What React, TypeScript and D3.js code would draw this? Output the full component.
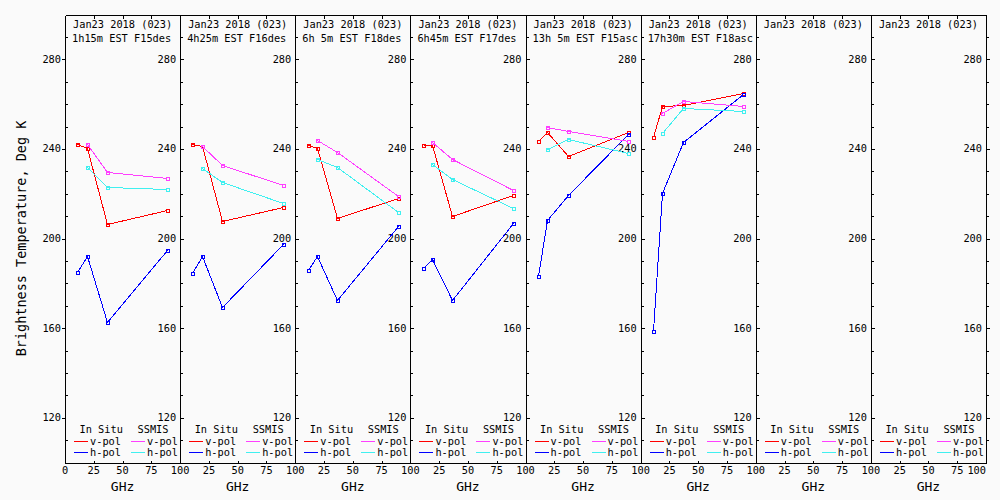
import { useEffect, useRef } from "react";
import * as d3 from "d3";

// panel headers
const dateLabel = "Jan23 2018 (023)";
const timeLabels = [
  "1h15m EST F15des",
  "4h25m EST F16des",
  "6h 5m EST F18des",
  "6h45m EST F17des",
  "13h 5m EST F15asc",
  "17h30m EST F18asc",
  "",
  ""
];

// channel frequencies (GHz)
const inSituFreq = [10.65, 18.7, 36.5, 89];
const ssmisFreq = [18.7, 36.5, 89];

// brightness temperatures (K), one row per panel
const inSituV = [
  [242.1, 240.2, 206.4, 212.6],
  [242.1, 241.1, 208.0, 214.0],
  [241.7, 240.6, 209.1, 218.0],
  [241.7, 241.7, 210.0, 219.2],
  [243.5, 247.5, 236.8, 247.5],
  [245.2, 259.2, 259.8, 264.9],
  [],
  []
];
const inSituH = [
  [185.0, 192.1, 162.6, 194.8],
  [184.5, 192.1, 169.3, 197.5],
  [185.8, 192.1, 172.5, 205.5],
  [186.7, 190.8, 172.5, 206.8],
  [183.2, 208.2, 219.2, 246.6],
  [158.6, 220.2, 243.0, 264.4],
  [],
  []
];
const ssmisV = [
  [242.1, 229.6, 226.8],
  [241.1, 232.9, 223.8],
  [243.8, 238.5, 218.9],
  [243.3, 235.4, 221.6],
  [249.7, 247.9, 243.5],
  [255.9, 261.3, 259.1],
  [],
  []
];
const ssmisH = [
  [231.8, 222.9, 222.0],
  [231.4, 225.1, 215.8],
  [235.4, 231.8, 211.7],
  [233.2, 226.5, 213.5],
  [239.9, 244.3, 238.1],
  [247.0, 258.2, 257.1],
  [],
  []
];

const yTicks = [120, 160, 200, 240, 280];
const xTicks = [25, 50, 75];

const FONT = "'DejaVu Sans Mono', monospace";
const RED = "#ff0000";
const BLUE = "#0000ff";
const MAGENTA = "#ff40ff";
const CYAN = "#40f0f0";

export default function App() {
  const ref = useRef<SVGSVGElement | null>(null);

  useEffect(() => {
    if (!ref.current) return;
    const svg = d3.select(ref.current);
    svg.selectAll("*").remove();

    const width = 1000;
    const height = 500;
    const left = 65;
    const right = 986;
    const top = 14.5;
    const bottom = 462.5;

    svg.attr("viewBox", `0 0 ${width} ${height}`);
    svg.append("rect").attr("width", width).attr("height", height).attr("fill", "#fafafa");

    const panel = d3.scaleBand<number>().domain(d3.range(8)).range([left, right]).padding(0);
    const bw = panel.bandwidth();
    const y = d3.scaleLinear().domain([100, 300]).range([bottom, top]);
    const px = (v: number) => Math.round(v) + 0.5;

    const g = svg.append("g").attr("shape-rendering", "crispEdges");
    const labels = svg.append("g").attr("font-family", FONT).attr("font-size", 10.3).attr("fill", "#000");

    // y label
    svg
      .append("text")
      .attr("transform", `translate(26,${(top + bottom) / 2}) rotate(-90)`)
      .attr("text-anchor", "middle")
      .attr("font-family", FONT)
      .attr("font-size", 13.5)
      .text("Brightness Temperature, Deg K");

    // vertical boundaries with y ticks, and the 0 / 100 GHz labels under them
    const bounds = d3.range(9).map((i) => (i < 8 ? panel(i)! : right));
    const minor = d3.range(110, 300, 10);
    bounds.forEach((bx, i) => {
      const xb = px(bx);
      g.append("line").attr("x1", xb).attr("x2", xb).attr("y1", px(top)).attr("y2", px(bottom)).attr("stroke", "#000");
      g.selectAll(null)
        .data(minor)
        .join("line")
        .attr("x1", (v: number) => (yTicks.includes(v) ? (i === 0 ? xb - 4 : xb - 1) : xb - 1))
        .attr("x2", (v: number) => (yTicks.includes(v) ? (i === 0 ? xb : xb + 3) : xb + 2))
        .attr("y1", (v: number) => px(y(v)))
        .attr("y2", (v: number) => px(y(v)))
        .attr("stroke", "#000");
      yTicks.forEach((v) => {
        labels
          .append("text")
          .attr("x", bx - 4)
          .attr("y", y(v) + 3.5)
          .attr("text-anchor", "end")
          .text(String(v));
      });
      labels
        .append("text")
        .attr("x", bx)
        .attr("y", 474)
        .attr("text-anchor", i === 8 ? "end" : "middle")
        .text(i === 0 ? "0" : "100");
    });

    // top / bottom edges
    g.append("line").attr("x1", px(left)).attr("x2", px(right)).attr("y1", px(top)).attr("y2", px(top)).attr("stroke", "#000");
    g.append("line").attr("x1", px(left)).attr("x2", px(right)).attr("y1", px(bottom)).attr("y2", px(bottom)).attr("stroke", "#000");

    d3.range(8).forEach((p) => {
      const x0 = panel(p)!;
      const x = d3.scaleLinear().domain([0, 100]).range([x0, x0 + bw]);

      // x ticks
      xTicks.forEach((t) => {
        g.append("line").attr("x1", px(x(t))).attr("x2", px(x(t))).attr("y1", px(top)).attr("y2", px(top) + 3).attr("stroke", "#000");
        g.append("line").attr("x1", px(x(t))).attr("x2", px(x(t))).attr("y1", px(bottom) - 3).attr("y2", px(bottom)).attr("stroke", "#000");
        labels.append("text").attr("x", x(t)).attr("y", 474).attr("text-anchor", "middle").text(String(t));
      });
      svg
        .append("text")
        .attr("x", x(50))
        .attr("y", 491)
        .attr("text-anchor", "middle")
        .attr("font-family", FONT)
        .attr("font-size", 13)
        .text("GHz");

      // titles
      labels.append("text").attr("x", x0 + 8).attr("y", 28).text(dateLabel);
      if (timeLabels[p]) labels.append("text").attr("x", x0 + 7).attr("y", 41.5).text(timeLabels[p]);

      // legend
      labels.append("text").attr("x", x0 + 14.5).attr("y", 433).text("In Situ");
      labels.append("text").attr("x", x0 + 72.5).attr("y", 433).text("SSMIS");
      const rows = [
        { dx: 9, c: RED, t: "v-pol", yy: 441.5 },
        { dx: 9, c: BLUE, t: "h-pol", yy: 452.5 },
        { dx: 66, c: MAGENTA, t: "v-pol", yy: 441.5 },
        { dx: 66, c: CYAN, t: "h-pol", yy: 452.5 }
      ];
      rows.forEach((r) => {
        g.append("line")
          .attr("x1", Math.round(x0 + r.dx))
          .attr("x2", Math.round(x0 + r.dx) + 14)
          .attr("y1", r.yy)
          .attr("y2", r.yy)
          .attr("stroke", r.c);
        labels.append("text").attr("x", x0 + r.dx + 16).attr("y", r.yy + 3.7).text(r.t);
      });

      // series
      const series = [
        { f: inSituFreq, v: inSituV[p], c: RED },
        { f: inSituFreq, v: inSituH[p], c: BLUE },
        { f: ssmisFreq, v: ssmisV[p], c: MAGENTA },
        { f: ssmisFreq, v: ssmisH[p], c: CYAN }
      ];
      series.forEach((s) => {
        if (!s.v.length) return;
        const pts: [number, number][] = s.v.map((t, k) => [Math.round(x(s.f[k])) + 0.5, Math.round(y(t)) + 0.5]);
        svg
          .append("path")
          .attr("d", d3.line()(pts))
          .attr("fill", "none")
          .attr("stroke", s.c)
          .attr("stroke-width", 1)
          .attr("shape-rendering", "crispEdges");
        svg
          .append("g")
          .selectAll("rect")
          .data(pts)
          .join("rect")
          .attr("x", (d: [number, number]) => d[0] - 1.5)
          .attr("y", (d: [number, number]) => d[1] - 1.5)
          .attr("width", 3)
          .attr("height", 3)
          .attr("fill", "none")
          .attr("stroke", s.c)
          .attr("shape-rendering", "crispEdges");
      });
    });
  }, []);

  return <svg ref={ref} width={1000} height={500} style={{ position: "absolute", left: 0, top: 0 }} />;
}
